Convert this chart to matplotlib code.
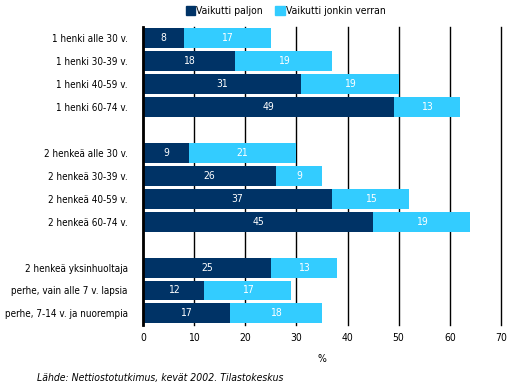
import numpy as np
import matplotlib
matplotlib.use('Agg')
import matplotlib.pyplot as plt
from matplotlib.patches import Patch

plt.rcParams['font.family'] = ['DejaVu Sans']
plt.rcParams['font.stretch'] = 'condensed'

# Data
groups = [
    ['1 henki alle 30 v.', '1 henki 30-39 v.', '1 henki 40-59 v.', '1 henki 60-74 v.'],
    ['2 henkeä alle 30 v.', '2 henkeä 30-39 v.', '2 henkeä 40-59 v.', '2 henkeä 60-74 v.'],
    ['2 henkeä yksinhuoltaja', 'perhe, vain alle 7 v. lapsia', 'perhe, 7-14 v. ja nuorempia'],
]
paljon = [8, 18, 31, 49, 9, 26, 37, 45, 25, 12, 17]
jonkin = [17, 19, 19, 13, 21, 9, 15, 19, 13, 17, 18]
series_names = ['Vaikutti paljon', 'Vaikutti jonkin verran']
xticks = [0, 10, 20, 30, 40, 50, 60, 70]

DARK = '#003366'
LIGHT = '#33CCFF'
FS = 7.5

# y positions with a blank slot between groups
labels, ypos = [], []
slot = 0
for g in groups:
    for lab in g:
        labels.append(lab)
        ypos.append(slot)
        slot += 1
    slot += 1
n_slots = slot - 1

fig = plt.figure(figsize=(5.07, 3.9), dpi=100)
ax = fig.add_axes([0.282, 0.167, 0.706, 0.764])

ax.barh(ypos, paljon, height=0.87, color=DARK, zorder=3)
ax.barh(ypos, jonkin, left=paljon, height=0.87, color=LIGHT, zorder=3)

for y, a, b in zip(ypos, paljon, jonkin):
    ax.text(a / 2, y, str(a), ha='center', va='center', color='white', fontsize=FS, zorder=4)
    ax.text(a + b / 2, y, str(b), ha='center', va='center', color='white', fontsize=FS, zorder=4)

ax.set_xlim(0, 70)
ax.set_ylim(n_slots - 0.5, -0.5)
ax.set_xticks(xticks)
ax.set_xticklabels([str(t) for t in xticks], fontsize=FS)
ax.set_yticks(ypos)
ax.set_yticklabels(labels, fontsize=7.1)
ax.tick_params(axis='y', length=0, pad=11)
ax.tick_params(axis='x', length=0, pad=6)
ax.set_xlabel('%', fontsize=FS, labelpad=8)

ax.grid(axis='x', color='black', linewidth=1, zorder=1)
for gl in ax.get_xgridlines():
    gl.set_clip_on(False)
for s in ['top', 'right', 'bottom']:
    ax.spines[s].set_visible(False)
ax.spines['left'].set_linewidth(2)
ax.spines['left'].set_zorder(5)

handles = [Patch(color=DARK), Patch(color=LIGHT)]
fig.legend(handles, series_names, loc='center', bbox_to_anchor=(0.563, 0.972), ncol=2,
           frameon=False, fontsize=FS, handlelength=0.9, handleheight=0.9,
           handletextpad=0.1, columnspacing=1.2)

fig.text(0.073, 0.023, 'Lähde: Nettiostotutkimus, kevät 2002. Tilastokeskus',
         fontsize=FS, style='italic')

fig.savefig('out.png', dpi=100)
